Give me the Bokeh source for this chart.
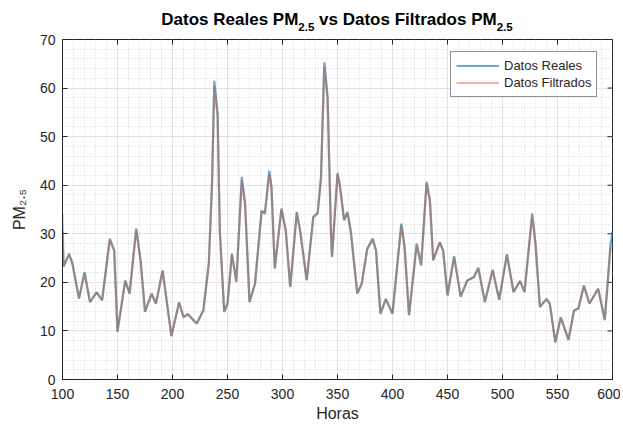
import math
from bokeh.plotting import figure
from bokeh.layouts import column
from bokeh.models import (Range1d, FixedTicker, Div, Legend, LegendItem)
from bokeh.embed import file_html
from bokeh.resources import INLINE

# ---------------- data ----------------
horas = [100, 101, 106, 109, 115, 120, 125, 131, 136, 143, 147, 150, 157, 161,
         167, 171, 175, 181, 185, 191, 199, 206, 210, 214, 222, 228, 233, 236,
         238, 241, 243, 247, 250, 254, 258, 263, 266, 270, 275, 281, 284, 288,
         290, 293, 299, 303, 307, 313, 316, 322, 328, 332, 335, 338, 341, 344,
         345, 350, 352, 356, 359, 362, 368, 372, 377, 382, 385, 389, 394, 400,
         408, 411, 415, 422, 426, 431, 434, 437, 443, 446, 450, 456, 462, 468,
         474, 478, 484, 491, 497, 504, 510, 516, 520, 527, 530, 534, 540, 543,
         548, 553, 560, 565, 569, 574, 579, 587, 593, 598, 600]

datos_reales = [30.5, 23.2, 25.9, 23.9, 16.6, 22.1, 15.9, 18.0, 16.3, 29.0,
                26.6, 9.8, 20.4, 17.7, 31.1, 24.5, 13.9, 17.7, 15.6, 22.5,
                8.9, 15.9, 12.8, 13.5, 11.5, 14.2, 23.9, 41.0, 61.5, 54.8,
                30.7, 13.9, 15.6, 25.9, 20.1, 41.7, 36.2, 15.9, 19.7, 34.8,
                34.2, 43.0, 39.6, 22.8, 35.2, 30.7, 19.0, 34.5, 30.7, 20.4,
                33.5, 34.3, 41.7, 65.3, 58.2, 30.7, 25.2, 42.5, 40.3, 32.8,
                34.5, 30.7, 17.7, 19.7, 26.9, 29.0, 26.6, 13.5, 16.6, 13.5,
                32.1, 27.3, 13.2, 28.0, 23.5, 40.7, 36.9, 24.5, 28.3, 26.6,
                17.3, 25.4, 17.0, 20.4, 21.1, 23.0, 15.9, 22.6, 16.4, 25.8,
                18.0, 20.3, 18.0, 34.2, 28.0, 14.9, 16.6, 15.6, 7.6, 12.8,
                8.1, 14.2, 14.6, 19.4, 15.6, 18.7, 12.2, 27.3, 30.5]

datos_filtrados = [34.0, 23.5, 25.7, 23.8, 16.8, 21.9, 16.0, 17.9, 16.4, 28.7,
                   26.5, 10.0, 20.2, 17.8, 30.8, 24.4, 14.0, 17.6, 15.7, 22.3,
                   9.1, 15.8, 12.9, 13.4, 11.6, 14.2, 23.7, 40.6, 60.5, 54.3,
                   30.5, 14.0, 15.6, 25.7, 20.2, 41.0, 36.0, 16.0, 19.7, 34.6,
                   34.1, 42.3, 39.3, 22.9, 35.0, 30.6, 19.1, 34.3, 30.6, 20.5,
                   33.4, 34.2, 41.4, 64.5, 57.8, 30.6, 25.4, 42.2, 40.1, 32.8,
                   34.3, 30.6, 17.8, 19.7, 26.8, 28.8, 26.5, 13.6, 16.5, 13.6,
                   31.8, 27.2, 13.3, 27.8, 23.5, 40.3, 36.7, 24.6, 28.2, 26.5,
                   17.4, 25.2, 17.1, 20.4, 21.0, 22.9, 16.0, 22.4, 16.5, 25.6,
                   18.1, 20.2, 18.1, 33.8, 27.8, 15.0, 16.5, 15.6, 7.8, 12.7,
                   8.3, 14.2, 14.6, 19.2, 15.7, 18.6, 12.4, 26.5, 27.5]

x_ticks = [100, 150, 200, 250, 300, 350, 400, 450, 500, 550, 600]
y_ticks = [0, 10, 20, 30, 40, 50, 60, 70]
x_minor = [h for h in range(100, 601, 10)]
y_minor = [v for v in range(0, 71, 2)]

serie_nombres = ["Datos Reales", "Datos Filtrados"]
titulo_partes = ["Datos Reales PM", "vs Datos Filtrados PM"]
subindice = "2.5"
eje_x_titulo = "Horas"
eje_y_titulo = "PM\u2082.\u2085"

FONT = "Liberation Sans"
AX = "#262626"

p = figure(width=620, height=392, output_backend="svg", toolbar_location=None,
           x_range=Range1d(100, 600), y_range=Range1d(0, 70),
           min_border_left=62, min_border_right=8,
           min_border_top=6, min_border_bottom=46)
p.background_fill_color = "white"
p.border_fill_color = "white"
p.outline_line_color = AX
p.outline_line_width = 1

xt = FixedTicker(ticks=x_ticks, minor_ticks=x_minor)
yt = FixedTicker(ticks=y_ticks, minor_ticks=y_minor)
p.xaxis.ticker = xt
p.yaxis.ticker = yt
p.xgrid.ticker = xt
p.ygrid.ticker = yt

for ax in (p.xaxis[0], p.yaxis[0]):
    ax.major_tick_in = 5
    ax.major_tick_out = 0
    ax.minor_tick_in = 0
    ax.minor_tick_out = 0
    ax.axis_line_color = AX
    ax.major_tick_line_color = AX
    ax.major_label_text_font = FONT
    ax.major_label_text_font_size = "14px"
    ax.major_label_text_color = AX
    ax.axis_label_text_font = FONT
    ax.axis_label_text_font_size = "16px"
    ax.axis_label_text_font_style = "normal"
    ax.axis_label_text_color = AX
p.xaxis.major_label_standoff = 9
p.yaxis.major_label_standoff = 7
p.xaxis.axis_label = eje_x_titulo
p.yaxis.axis_label = eje_y_titulo
p.xaxis.axis_label_standoff = 3
p.yaxis.axis_label_standoff = 9

for g in (p.xgrid[0], p.ygrid[0]):
    g.grid_line_color = "#e2e2e2"
    g.grid_line_width = 1
    g.minor_grid_line_color = "#d4d4d4"
    g.minor_grid_line_dash = "1 2"
    g.minor_grid_line_width = 1

# inward ticks on the top and right edges of the box (half of each dash is
# clipped away by the frame)
p.scatter(x=x_ticks, y=[70] * len(x_ticks), marker="dash", size=10,
          angle=math.pi / 2, line_color=AX, line_width=1)
p.scatter(x=[600] * len(y_ticks), y=y_ticks, marker="dash", size=10,
          line_color=AX, line_width=1)

r1 = p.line(horas, datos_reales, line_color="#0072BD", line_width=2.2,
            line_alpha=0.6)
r2 = p.line(horas, datos_filtrados, line_color="#D95319", line_width=2.2,
            line_alpha=0.42)

legend = Legend(items=[LegendItem(label=serie_nombres[0], renderers=[r1]),
                       LegendItem(label=serie_nombres[1], renderers=[r2])],
                location=(388, 282))
legend.margin = 0
legend.padding = 5
legend.spacing = 0
legend.glyph_width = 43
legend.glyph_height = 17
legend.label_height = 17
legend.label_standoff = 5
legend.label_text_font = FONT
legend.label_text_font_size = "13px"
legend.label_text_color = AX
legend.border_line_color = AX
legend.border_line_width = 1
legend.background_fill_alpha = 1
p.add_layout(legend)

sub_style = "font-size:11.5px; vertical-align:-6px; line-height:0;"
titulo_html = (
    "<div style=\"font-family:'Liberation Sans', sans-serif; font-size:17px;"
    " font-weight:bold; color:#000; text-align:center; width:550px;"
    " padding-top:10px; line-height:20px; white-space:nowrap;\">"
    f"{titulo_partes[0]}<sub style=\"{sub_style}\">{subindice}</sub> "
    f"{titulo_partes[1]}<sub style=\"{sub_style}\">{subindice}</sub></div>"
)
titulo = Div(text=titulo_html, width=550, height=33, margin=(0, 0, 0, 62))

layout = column(titulo, p, spacing=0)

open("out.html", "w").write(file_html(layout, INLINE))
